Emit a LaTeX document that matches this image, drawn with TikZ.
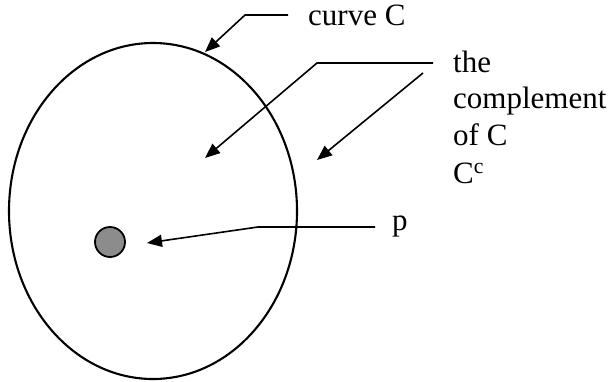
\documentclass[tikz,border=0pt]{standalone}
\usepackage{fontspec}
\setmainfont{Liberation Serif}
\usetikzlibrary{arrows.meta}
\definecolor{dotgray}{RGB}{140,140,140}
\tikzset{
  lbl/.style={inner sep=0pt, anchor=base west, font=\fontsize{31}{36}\selectfont},
  ptr/.style={line width=1.6pt, -{Triangle[length=15pt,width=12pt]}},
}
\begin{document}
\begin{tikzpicture}[x=1pt,y=-1pt]
\useasboundingbox (0,0) rectangle (613,381);
% curve C
\draw[line width=2.1pt] (153,211) ellipse [x radius=144, y radius=168];
% point p
\node[circle, draw, line width=1.8pt, fill=dotgray, minimum size=30pt, inner sep=0pt] (dot) at (110,242) {};
% labels
\node[lbl] (curveC) at (308,25) {curve C};
\node[lbl] (t1) at (453,72) {the};
\node[lbl] (t2) at (453,108) {complement};
\node[lbl] (t3) at (453,145) {of C};
\node[lbl] (t4) at (453,183) {C\textsuperscript{c}};
\node[lbl] (plab) at (392,230) {p};
% connectors
\coordinate (c1) at (288,15);
\coordinate (c2) at (245,15);
\coordinate (ctop) at (205,52);
\draw[ptr] (c1) -- (c2) -- (ctop);
\coordinate (k1) at (433,63);
\coordinate (k2) at (317,63);
\coordinate (kin) at (205,158);
\draw[ptr] (k1) -- (k2) -- (kin);
\coordinate (k3) at (423,73);
\coordinate (kout) at (317,160);
\draw[ptr] (k3) -- (kout);
\coordinate (p1) at (375,227);
\coordinate (p2) at (258,227);
\coordinate (ptip) at (147,243);
\draw[ptr] (p1) -- (p2) -- (ptip);
\end{tikzpicture}
\end{document}
